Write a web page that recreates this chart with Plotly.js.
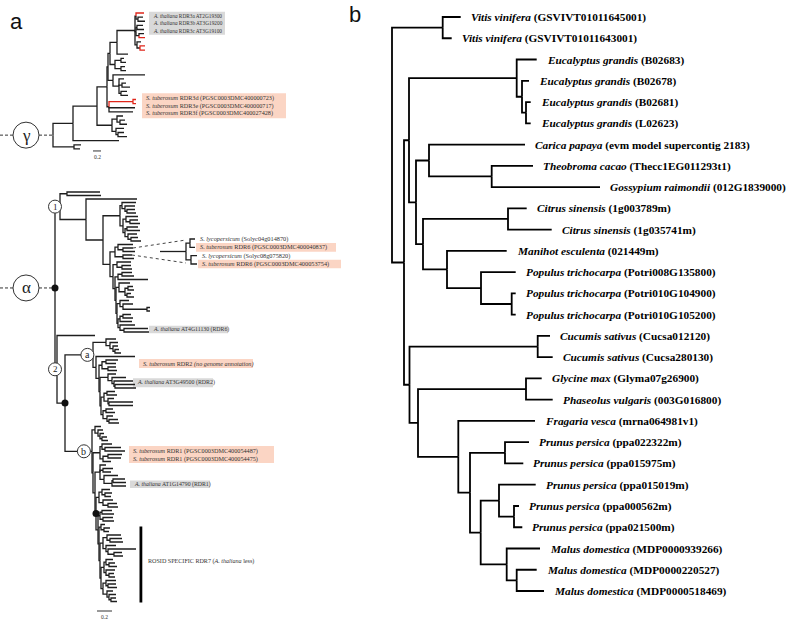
<!DOCTYPE html>
<html><head><meta charset="utf-8">
<script src="https://cdn.plot.ly/plotly-3.0.1.min.js"></script>
<style>html,body{margin:0;padding:0;background:#fff}</style>
</head><body>
<div id="chart" style="width:787px;height:621px"></div>
<script>
// ================= DATA =================
// Panel a — gamma clade (RDR3). Branch lengths in drawing units; tips named r / r_* are red.
const gG1  = "((r_g1:8,(t:5,t:7):2):1,((t:6,t:7):1,(g2:5,r:6):3):1,(t:4,(r:5,r:5):3):2)";
const gA12 = "((t:3,t:5):6,(t:4,t:5):6)";
const gA2  = "(t:32,(t:5,(t:4,t:8):3,(t:6,t:7):2):6)";
const gStu = "((r_s1:3,r:3)r:24,t:26,s2:24)";
const gC   = "((t:6,(t:5,t:7):3):5,(t:8,(t:6,t:9):2):4)";

// Panel a — alpha clade (RDR1/2/6/7) sub-clades
const aC1c   = "((t:14,(t:10,(t:8,t:9):2):3):2,((t:12,(t:8,t:10):4):3,((t:11,t:13):2,(t:9,(t:7,t:10):3):3):2):3)";
const aSol   = "((t:15,(d1:10,t:12):5):3,(d2:9,t:11):8)";
const aK1    = "(t:14,(t:9,t:10):5)";
const aK2    = "((t:10,t:12):4,t:30)";
const aK3    = "(t:11,((t:5,t:6):3,(t:4,t:7):2):6)";
const aK4    = "(t:9,(t:10,(t:3,t:3):24):3)";
const aK5    = "((t:8,t:10):3,t:12)";
const aAtR6  = "(t:15,(a6:24,t:25):4)";
const aCa1   = "(t:10,(t:8,(t:5,(t:4,t:6):2):3):4)";
const aM1    = "((t:12,st2:10):4,(t:8,t:9):6)";
const aAtR2  = "(t:8,(t:14,(a2a:19,(a2b:20,t:21):1):2):4)";
const aM2    = "((t:8,t:10):3,(t:6,(t:24,t:24):1):4)";
const aM3    = "((t:7,t:9):3,(t:6,(t:9,t:10):2):4)";
const aCb1   = "(t:6,(t:5,(t:4,(t:5,t:6):2):2):3)";
const aStR1  = "((t:10,(t:16,s1a:20):3):2,((t:14,s1b:13):5,t:8):3)";
const aAtR1  = "(t:6,(t:10,t:8):3,(t:14,((t:12,a1a:13):1,a1b:14):8):4)";
const aM4    = "((t:8,(t:7,t:6):3):3,(t:10,(t:9,t:10):5):4)";
const aM4b   = "((t:10,t:12):2,(t:10,t:11):3)";
const aR1    = "(t:4,(t:6,t:5):3)";
const aR2    = "((t:14,(t:12,t:13):3):4,(t:10,(t:28,(t:8,t:9):6):2):3)";
const aR3    = "((t:7,(t:6,t:8):3):2,(t:9,(t:5,t:6):3):2)";
const aR4    = "((t:10,(t:8,t:9):2):3,(t:6,(t:7,(t:5,t:6):2):2):4)";
const rdr6Inset = "((sl1:5,st1:5):4,(sl2:6,st2b:6):5):26;";

// Panel a — label texts
const atRDR3Rows = ["<i>A. thaliana</i> RDR3a AT2G19300","<i>A. thaliana</i> RDR3b AT3G19200","<i>A. thaliana</i> RDR3c AT3G19100"];
const stRDR3Rows = ["<i>S. tuberosum</i> RDR3d (PGSC0003DMC400000723)","<i>S. tuberosum</i> RDR3e (PGSC0003DMC400000717)","<i>S. tuberosum</i> RDR3f (PGSC0003DMC400027428)"];
const insetRows  = ["<i>S. lycopersicum</i> (Solyc04g014870)","<i>S. tuberosum</i> RDR6 (PGSC0003DMC400040837)","<i>S. lycopersicum</i> (Solyc08g075820)","<i>S. tuberosum</i> RDR6 (PGSC0003DMC400053754)"];
const atRDR6Row  = "<i>A. thaliana</i> AT4G11130 (RDR6)";
const stRDR2Row  = "<i>S. tuberosum</i> RDR2 <i>(no genome annotation)</i>";
const atRDR2Row  = "<i>A. thaliana</i> AT3G49500 (RDR2)";
const stRDR1Rows = ["<i>S. tuberosum</i> RDR1 (PGSC0003DMC400054487)","<i>S. tuberosum</i> RDR1 (PGSC0003DMC400054475)"];
const atRDR1Row  = "<i>A. thaliana</i> AT1G14790 (RDR1)";
const rosidText  = "ROSID SPECIFIC RDR7 (<i>A. thaliana</i> less)";
const scaleLabel = "0.2";

// Panel b — rosid RDR7 tree
const rosidNewick = "((b0:18,b1:9):50.7,(((b2:20,(b3:7,(b4:4.7,b5:4.7):4):5.3):107.7,((b6:96,(b7:41.3,b8:108.3):62.7):13,((b9:18.7,b10:43.7):85,(b11:59.7,(b12:34.7,(b13:4,b14:4):30.7):34):24):7):7):5,((b15:12.3,b16:15):128.2,((b17:15.7,b18:26.7):108,(b19:76.7,((b20:24,b21:18.3):35,((b22:36.7,(b23:5,b24:8.3):15):18.3,(b25:33.3,(b26:20,b27:27.3):10):26):10.7):11.7):40.3):8.5):5.5):12);";
const rosidSpecies = ["Vitis vinifera","Vitis vinifera","Eucalyptus grandis","Eucalyptus grandis","Eucalyptus grandis","Eucalyptus grandis","Carica papaya","Theobroma cacao","Gossypium raimondii","Citrus sinensis","Citrus sinensis","Manihot esculenta","Populus trichocarpa","Populus trichocarpa","Populus trichocarpa","Cucumis sativus","Cucumis sativus","Glycine max","Phaseolus vulgaris","Fragaria vesca","Prunus persica","Prunus persica","Prunus persica","Prunus persica","Prunus persica","Malus domestica","Malus domestica","Malus domestica"];
const rosidIds = ["GSVIVT01011645001","GSVIVT01011643001","B02683","B02678","B02681","L02623","evm model supercontig 2183","Thecc1EG011293t1","012G1839000","1g003789m","1g035741m","021449m","Potri008G135800","Potri010G104900","Potri010G105200","Cucsa012120","Cucsa280130","Glyma07g26900","003G016800","mrna064981v1","ppa022322m","ppa015975m","ppa015019m","ppa000562m","ppa021500m","MDP0000939266","MDP0000220527","MDP0000518469"];

// ================= TREE ASSEMBLY =================
const gammaNewick = `(((((((${gG1}:18,t:11):7,${gA12}:5):2,${gA2}:5):1,${gStu}:2):10,${gC}:15):24,t:46):20,(t:7,t:6):21);`;
const rdr6 = `(${aSol}:5,(${aK1}:4,(${aK2}:3,(${aK3}:3,(${aK4}:3,(${aK5}:2,${aAtR6}:2):1):1):1):2):3)`;
const clade1 = `((t:33,t:34):7,(t:51,(${aC1c}:17,${rdr6}:7):17):26)`;
const cladeA = `(${aCa1}:13,(t:39,(${aM1}:3,(${aAtR2}:8,(${aM2}:3,${aM3}:2):1):1):3):3)ca`;
const rosidClade = `(${aR1}:2,(${aR2}:3,(${aR3}:3,${aR4}:2):1):1)rosid`;
const cladeB = `(${aCb1}:3,(${aStR1}:7,(${aAtR1}:5,(${aM4}:3,(${aM4b}:2,${rosidClade}:1):2)dot:1):2):1)cb`;
const clade2 = `(t:38,(${cladeA}:28,${cladeB}:27)dot:8)`;
const alphaNewick = `(${clade1}:5,${clade2}:2);`;

function parseNewick(str){
  const s = str.replace(/\s+/g,''); let i = 0;
  function node(){
    const n = {children:[], name:'', len:0};
    if (s[i] === '('){
      i++; n.children.push(node());
      while (s[i] === ','){ i++; n.children.push(node()); }
      i++;
    }
    let name=''; while (i < s.length && !':,();'.includes(s[i])) name += s[i++];
    n.name = name;
    if (s[i] === ':'){ i++; let num=''; while (i < s.length && !',();'.includes(s[i])) num += s[i++]; n.len = parseFloat(num); }
    return n;
  }
  return node();
}
function layoutTree(str, x0, yTop, dy){
  const root = parseNewick(str); const tips=[], nodes=[], named={};
  (function rec(n, px){
    n.px = px; n.x = px + n.len; nodes.push(n);
    if (n.name) (named[n.name] = named[n.name] || []).push(n);
    if (!n.children.length){ n.y = yTop + tips.length*dy; tips.push(n); }
    else { n.children.forEach(c => rec(c, n.x)); n.y = (n.children[0].y + n.children[n.children.length-1].y)/2; }
  })(root, x0);
  return {root, tips, nodes, named};
}
const isRed = n => n.name === 'r' || n.name.startsWith('r_');
function treeLines(tree, color, width, redColor){
  const blk={x:[],y:[]}, red={x:[],y:[]};
  const r = tree.root;
  if (r.len > 0){ blk.x.push(r.px, r.x, null); blk.y.push(r.y, r.y, null); }
  tree.nodes.forEach(n => {
    n.children.forEach(c => {
      const o = (redColor && isRed(c)) ? red : blk;
      o.x.push(n.x, n.x, c.x, null); o.y.push(n.y, c.y, c.y, null);
    });
  });
  const out = [{type:'scatter', mode:'lines', x:blk.x, y:blk.y, line:{color, width}, hoverinfo:'skip'}];
  if (redColor) out.push({type:'scatter', mode:'lines', x:red.x, y:red.y, line:{color:redColor, width}, hoverinfo:'skip'});
  return out;
}
function subtreeTips(n, acc){ if (!n.children.length) acc.push(n); n.children.forEach(c => subtreeTips(c, acc)); return acc; }

// ================= LAYOUT =================
const gamma = layoutTree(gammaNewick, 53, 13, 4.12);
const alpha = layoutTree(alphaNewick, 55, 192, 3.5);
const inset = layoutTree(rdr6Inset, 160, 239, 8.33);
const rosid = layoutTree(rosidNewick, 392, 17, 21.26);

const SERIF = "Liberation Serif, Times New Roman, serif";
const SANS = "Liberation Sans, Arial, sans-serif";
const GRAY = "#d9d9d9", PINK = "#fbd5c4", LINE = "#1e1e1e";
const traces = [];
traces.push(...treeLines(gamma, LINE, 1.3, "#e0261b"));
traces.push(...treeLines(alpha, LINE, 1.3));
traces.push(...treeLines(inset, LINE, 1.3));
traces.push(...treeLines(rosid, "#000", 1.8));

const shapes = [], annotations = [];
const txt = (x, y, text, size, opts={}) => annotations.push(Object.assign({x, y, text, showarrow:false, xanchor:'left', yanchor:'middle', font:{family:SERIF, size, color:'#333'}}, opts));
const box = (x0, x1, yc, h, color) => shapes.push({type:'rect', x0, x1, y0:yc-h/2, y1:yc+h/2, fillcolor:color, line:{width:0}, layer:'below'});
const one = (t, name) => t.named[name][0];

// gamma labels
{
  const c = (one(gamma,'r_g1').y + one(gamma,'g2').y)/2;
  box(149, 225, c, 23, GRAY);
  atRDR3Rows.forEach((t,k) => txt(151, c + (k-1)*7.8, t, 5.3));
  const c2 = (one(gamma,'r_s1').y + one(gamma,'s2').y)/2;
  box(142, 286, c2, 25, PINK);
  stRDR3Rows.forEach((t,k) => txt(144, c2 + (k-1)*7.3, t, 6.2));
}
// inset labels
inset.tips.forEach((tp,k) => {
  if (k % 2 === 1) box(tp.x + 1, k === 1 ? 336 : 341, tp.y, 8.6, PINK);
  txt(tp.x + 3, tp.y, insetRows[k], 6.3);
});
// dotted connectors main tree -> inset
{
  const d1 = one(alpha,'d1'), d2 = one(alpha,'d2');
  const it = inset.tips;
  traces.push({type:'scatter', mode:'lines', x:[d1.x, inset.root.x, null, d2.x, inset.root.x], y:[d1.y, it[0].y+1, null, d2.y, it[it.length-1].y-1], line:{color:'#444', width:1, dash:'dot'}, hoverinfo:'skip'});
}
// alpha labels
{
  const a6 = one(alpha,'a6'); box(149, 228, a6.y+1, 7.5, GRAY); txt(151, a6.y+1, atRDR6Row, 5.8);
  const s2 = one(alpha,'st2'); box(139, 253, s2.y, 9, PINK); txt(141, s2.y, stRDR2Row, 6.2);
  const ca2 = (one(alpha,'a2a').y + one(alpha,'a2b').y)/2; box(133, 213, ca2, 9, GRAY); txt(135, ca2, atRDR2Row, 5.9);
  const cs1 = (one(alpha,'s1a').y + one(alpha,'s1b').y)/2; box(129, 274, cs1, 17, PINK);
  stRDR1Rows.forEach((t,k) => txt(131, cs1 + (k-0.5)*8, t, 6.2));
  const ca1 = (one(alpha,'a1a').y + one(alpha,'a1b').y)/2; box(130, 210, ca1, 7.5, GRAY); txt(132, ca1, atRDR1Row, 5.8);
  const rTips = subtreeTips(one(alpha,'rosid'), []);
  const yA = rTips[0].y + 2, yB = rTips[rTips.length-1].y + 1;
  shapes.push({type:'rect', x0:139.5, x1:142.3, y0:yA, y1:yB, fillcolor:'#000', line:{width:0}});
  txt(146, (yA+yB)/2 - 3, rosidText, 6.1);
}
// circles and node dots (panel a)
function circ(xc, yc, r, label, size){
  shapes.push({type:'circle', x0:xc-r, x1:xc+r, y0:yc-r, y1:yc+r, fillcolor:'#fff', line:{color:'#333', width:1}, layer:'above'});
  txt(xc, yc, label, size, {xanchor:'center', font:{family:SERIF, size, color:'#222'}});
}
{
  const g = gamma.root;
  traces.push({type:'scatter', mode:'lines', x:[0,13,null,39,g.x], y:[g.y,g.y,null,g.y,g.y], line:{color:'#333', width:1, dash:'3px,2px'}, hoverinfo:'skip'});
  circ(26, g.y, 13, 'γ', 17);
  const a = alpha.root;
  traces.push({type:'scatter', mode:'lines', x:[0,13,null,39,a.x], y:[a.y,a.y,null,a.y,a.y], line:{color:'#333', width:1, dash:'3px,2px'}, hoverinfo:'skip'});
  circ(26, a.y, 13, 'α', 17);
  circ(a.x, a.children[0].y, 6.5, '1', 9);
  circ(a.x, a.children[1].y, 6.5, '2', 9);
  const ca = one(alpha,'ca'), cb = one(alpha,'cb');
  circ(ca.px + 0.8*ca.len, ca.y, 6.5, 'a', 10);
  circ(cb.px + 0.7*cb.len, cb.y, 6.5, 'b', 10);
  const dots = [a].concat(alpha.named['dot']);
  traces.push({type:'scatter', mode:'markers', x:dots.map(d=>d.x), y:dots.map(d=>d.y), marker:{color:'#111', size:7}, hoverinfo:'skip'});
}
// scale bars
{
  const gy = gamma.tips[gamma.tips.length-1].y + 2;
  traces.push({type:'scatter', mode:'lines', x:[93,101], y:[gy,gy], line:{color:'#333', width:1}, hoverinfo:'skip'});
  txt(97, gy+6, scaleLabel, 5.5, {xanchor:'center'});
  const ay = alpha.tips[alpha.tips.length-1].y + 9.5;
  traces.push({type:'scatter', mode:'lines', x:[97,112], y:[ay,ay], line:{color:'#333', width:1}, hoverinfo:'skip'});
  txt(104.5, ay+6, scaleLabel, 5.5, {xanchor:'center'});
}
// panel b labels
rosid.tips.forEach(tp => {
  const k = parseInt(tp.name.slice(1));
  annotations.push({x: tp.x + 8, y: tp.y + 0.5, text:`<b><i>${rosidSpecies[k]}</i> (${rosidIds[k]})</b>`, showarrow:false, xanchor:'left', yanchor:'middle', font:{family:SERIF, size:11.3, color:'#000'}});
});
// panel letters
annotations.push({x:16, y:21, text:'a', showarrow:false, xanchor:'center', yanchor:'middle', font:{family:SANS, size:22, color:'#111'}});
annotations.push({x:355, y:14, text:'b', showarrow:false, xanchor:'center', yanchor:'middle', font:{family:SANS, size:22, color:'#111'}});

const layout = {
  width:787, height:621, autosize:false,
  margin:{l:0,r:0,t:0,b:0,pad:0},
  paper_bgcolor:'#fff', plot_bgcolor:'#fff',
  showlegend:false, hovermode:false,
  xaxis:{range:[0,787], visible:false, fixedrange:true},
  yaxis:{range:[621,0], visible:false, fixedrange:true},
  shapes, annotations
};
Plotly.newPlot('chart', traces, layout, {staticPlot:true, displayModeBar:false});
</script>
</body></html>
